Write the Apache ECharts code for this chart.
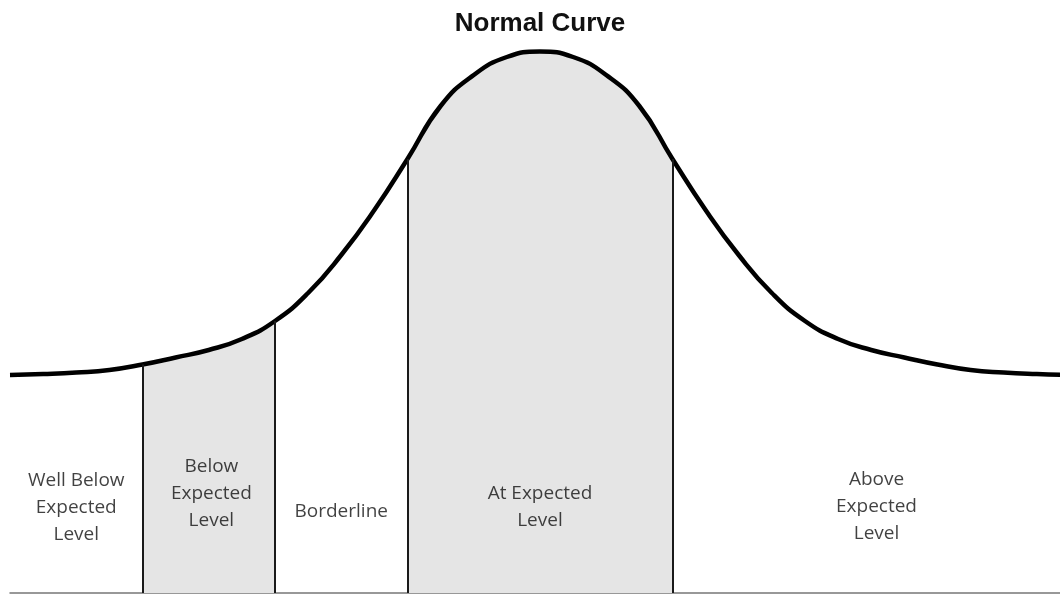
<!DOCTYPE html>
<html>
<head>
<meta charset="utf-8">
<script src="https://cdn.jsdelivr.net/npm/echarts@6/dist/echarts.min.js"></script>
<style>
  html, body { margin: 0; padding: 0; background: #ffffff; }
  #chart { width: 1060px; height: 594px; }
</style>
</head>
<body>
<div id="chart"></div>
<script>
// ---- data ----
const chartTitle = 'Normal Curve';
const categories = ['Well Below\nExpected\nLevel', 'Below\nExpected\nLevel', 'Borderline', 'At Expected\nLevel', 'Above\nExpected\nLevel'];
// band boundaries (z-scores)
const bandBounds = [-3, -2, -1, 1];
// shaded bands
const shadedBands = [[-3, -2], [-1, 1]];
// curve samples: z-score and height above the base line
const curveZ = [-4.0, -3.75, -3.5, -3.25, -3.0, -2.75, -2.5, -2.25, -2.0, -1.75, -1.5, -1.25, -1.0, -0.75, -0.5, -0.25, 0,
                0.25, 0.5, 0.75, 1.0, 1.25, 1.5, 1.75, 2.0, 2.25, 2.5, 2.75, 3.0, 3.25, 3.5, 3.75, 4.0];
const curveH = [218, 219, 220.5, 223, 228.5, 235.5, 243, 254, 272, 300, 338, 383, 434, 487, 518, 536, 541.5,
                536, 518, 487, 434, 383, 338, 300, 272, 254, 243, 235.5, 228.5, 223, 220.5, 219, 218];

// ---- layout (not data) ----
const labelLayout = [[-3.5, 85], [-2.48, 99], [-1.5, 81], [0.0, 86], [2.54, 86]];

const curve = curveZ.map((z, i) => [z, curveH[i]]);
function heightAt(z) {
  const i = curveZ.indexOf(z);
  return curveH[i];
}

const chart = echarts.init(document.getElementById('chart'), null, { renderer: 'canvas' });
const option = {
  animation: false,
  backgroundColor: '#ffffff',
  title: {
    text: chartTitle,
    left: 540,
    top: 9,
    padding: 0,
    textAlign: 'center',
    textStyle: { fontFamily: 'Liberation Sans', fontWeight: 'bold', fontSize: 26, color: '#111111', lineHeight: 29 }
  },
  grid: { left: 10, right: 0, top: 0, bottom: 1 },
  xAxis: {
    type: 'value', min: -4, max: 3.925,
    axisLine: { show: true, lineStyle: { color: '#777777', width: 1.5 } },
    axisTick: { show: false }, axisLabel: { show: false }, splitLine: { show: false }
  },
  yAxis: {
    type: 'value', min: 0, max: 593, show: false, splitLine: { show: false }
  },
  visualMap: {
    type: 'piecewise', show: false, dimension: 0, seriesIndex: 0,
    pieces: shadedBands.map(b => ({ gte: b[0], lte: b[1], color: '#e5e5e5' })),
    outOfRange: { color: 'rgba(255,255,255,0)' }
  },
  series: [
    {
      type: 'line', data: curve, smooth: 0.5, symbol: 'none', silent: true,
      lineStyle: { width: 0 }, areaStyle: { opacity: 1 }, z: 1
    },
    {
      type: 'line', data: curve, smooth: 0.5, symbol: 'none', silent: true,
      lineStyle: { color: '#000000', width: 4.5 }, z: 3,
      markLine: {
        silent: true, symbol: 'none', label: { show: false },
        lineStyle: { color: '#1a1a1a', width: 2, type: 'solid' },
        data: bandBounds.map(z => [{ coord: [z, 0] }, { coord: [z, heightAt(z)] }])
      }
    },
    {
      type: 'scatter', symbolSize: 1, silent: true, z: 4,
      itemStyle: { color: 'rgba(0,0,0,0)' },
      data: categories.map((c, i) => ({ name: c, value: labelLayout[i] })),
      label: {
        show: true, position: 'inside', formatter: p => p.name,
        fontFamily: 'Open Sans', fontSize: 19, lineHeight: 27, color: '#111111', align: 'center', verticalAlign: 'middle'
      }
    }
  ]
};
chart.setOption(option);
</script>
</body>
</html>
